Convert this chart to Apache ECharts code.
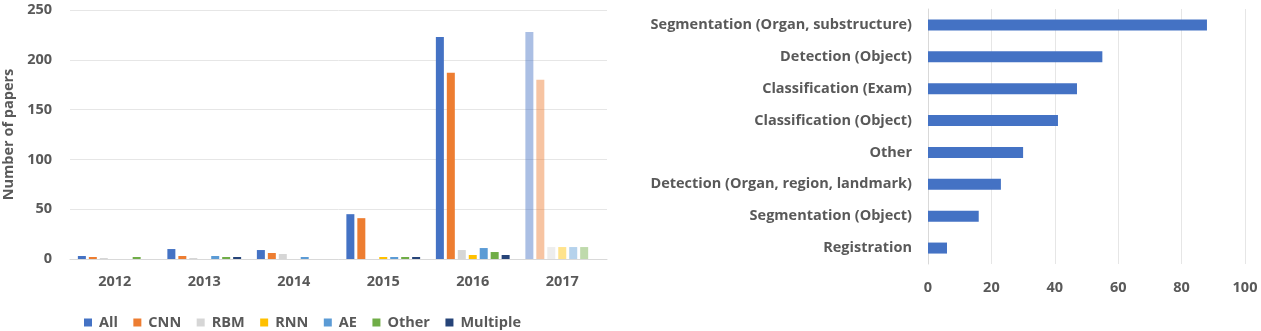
<!DOCTYPE html>
<html>
<head>
<meta charset="utf-8">
<script src="https://cdn.jsdelivr.net/npm/echarts@6/dist/echarts.min.js"></script>
<style>
  html, body { margin: 0; padding: 0; background: #fff; }
  #chart { width: 1261px; height: 331px; }
</style>
</head>
<body>
<div id="chart"></div>
<script>
// left chart: papers per year by method
const years = ['2012', '2013', '2014', '2015', '2016', '2017']
const methods = ['All', 'CNN', 'RBM', 'RNN', 'AE', 'Other', 'Multiple']
const allVals = [3, 10, 9, 45, 223, 228]
const cnnVals = [2, 3, 6, 41, 187, 180]
const rbmVals = [1, 1, 5, 0, 9, 12]
const rnnVals = [0, 0, 0, 2, 4, 12]
const aeVals = [0, 3, 2, 2, 11, 12]
const otherVals = [2, 2, 0, 2, 7, 12]
const multipleVals = [0, 2, 0, 2, 4, 0]
const methodColors = ['#4472c4', '#ed7d31', '#d6d6d6', '#ffc000', '#5b9bd5', '#70ad47', '#264478']

// right chart: papers per task
const tasks = ['Registration', 'Segmentation (Object)', 'Detection (Organ, region, landmark)', 'Other',
  'Classification (Object)', 'Classification (Exam)', 'Detection (Object)', 'Segmentation (Organ, substructure)']
const taskVals = [6, 16, 23, 30, 41, 47, 55, 88]

const txt = '#595959'
const font = 'Open Sans'
const fs = 14.5
const fw = 'bold'

const chart = echarts.init(document.getElementById('chart'))

const methodData = [allVals, cnnVals, rbmVals, rnnVals, aeVals, otherVals, multipleVals]
const leftSeries = methods.map((name, i) => ({
  name: name,
  type: 'bar',
  xAxisIndex: 0,
  yAxisIndex: 0,
  barWidth: 8,
  barGap: '37%',
  itemStyle: { color: methodColors[i] },
  // 2017 is an incomplete year, drawn faded
  data: methodData[i].map((v, j) => j === years.length - 1
    ? { value: v, itemStyle: { opacity: 0.45 } }
    : v),
  animation: false
}))

chart.setOption({
  textStyle: { fontFamily: font },
  legend: {
    data: methods,
    left: 79,
    top: 310,
    itemWidth: 8,
    itemHeight: 8,
    itemGap: 15.5,
    icon: 'rect',
    textStyle: { color: txt, fontSize: fs, fontWeight: fw, fontFamily: font, padding: [0, 0, 0, 2] }
  },
  grid: [
    { left: 70, right: 654, top: 10, bottom: 72 },
    { left: 928, right: 16, top: 9, bottom: 67 }
  ],
  xAxis: [{
    gridIndex: 0,
    type: 'category',
    data: years,
    axisTick: { show: false },
    axisLine: { lineStyle: { color: '#d9d9d9' } },
    axisLabel: { color: txt, fontSize: fs, fontWeight: fw, margin: 15 }
  }, {
    gridIndex: 1,
    type: 'value',
    min: 0,
    max: 100,
    interval: 20,
    axisLine: { show: false },
    axisTick: { show: false },
    splitLine: { lineStyle: { color: '#e6e6e6' } },
    axisLabel: { color: txt, fontSize: fs, fontWeight: fw, margin: 16 }
  }],
  yAxis: [{
    gridIndex: 0,
    type: 'value',
    min: 0,
    max: 250,
    interval: 50,
    name: 'Number of papers',
    nameLocation: 'middle',
    nameGap: 54,
    nameTextStyle: { color: txt, fontSize: fs, fontWeight: fw },
    axisLine: { show: false },
    axisTick: { show: false },
    splitLine: { lineStyle: { color: '#e6e6e6' } },
    axisLabel: { color: txt, fontSize: fs, fontWeight: fw, margin: 18 }
  }, {
    gridIndex: 1,
    type: 'category',
    data: tasks,
    axisTick: { show: false },
    axisLine: { lineStyle: { color: '#d9d9d9' } },
    axisLabel: { color: txt, fontSize: fs, fontWeight: fw, margin: 16 }
  }],
  series: leftSeries.concat([{
    name: 'Tasks',
    type: 'bar',
    xAxisIndex: 1,
    yAxisIndex: 1,
    barWidth: 11,
    itemStyle: { color: '#4472c4' },
    data: taskVals,
    animation: false
  }])
})
</script>
</body>
</html>
